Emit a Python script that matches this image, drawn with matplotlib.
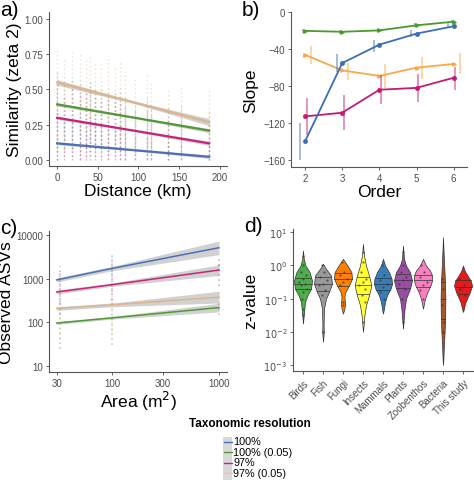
import numpy as np
import matplotlib
matplotlib.use("Agg")
import matplotlib.pyplot as plt
from matplotlib.lines import Line2D
from matplotlib.patches import Rectangle

plt.rcParams['font.family'] = ['Liberation Sans', 'DejaVu Sans']

# ---------------- data ----------------
series = ["100%", "100% (0.05)", "97%", "97% (0.05)"]
colors = ["#3d6db5", "#4a9a2c", "#c41a73", "#f9a94b"]
colors_a = ["#4a6fb5", "#4f9a35", "#c8237a", "#dcb48e"]

# panel a: distances and vertical ranges of points, fitted lines
dist = [0, 9, 18, 28, 35, 41, 47, 54, 62, 71, 77, 83, 96, 110, 116, 136, 153, 187]
a_high = {
    "97% (0.05)": [0.80, 0.72, 0.78, 0.75, 0.72, 0.74, 0.70, 0.68, 0.72, 0.66, 0.70, 0.62, 0.58, 0.60, 0.55, 0.50, 0.52, 0.50],
    "100% (0.05)": [0.62, 0.55, 0.58, 0.55, 0.52, 0.55, 0.50, 0.50, 0.50, 0.48, 0.50, 0.45, 0.42, 0.44, 0.40, 0.38, 0.38, 0.36],
    "97%": [0.55, 0.45, 0.50, 0.48, 0.48, 0.50, 0.45, 0.42, 0.45, 0.42, 0.42, 0.38, 0.35, 0.35, 0.32, 0.30, 0.30, 0.28],
    "100%": [0.35, 0.30, 0.30, 0.30, 0.28, 0.32, 0.28, 0.25, 0.25, 0.22, 0.25, 0.20, 0.18, 0.18, 0.15, 0.12, 0.12, 0.12],
}
a_low = {
    "97% (0.05)": [0.15, 0.20, 0.20, 0.18, 0.20, 0.22, 0.20, 0.20, 0.18, 0.20, 0.15, 0.15, 0.15, 0.12, 0.15, 0.10, 0.12, 0.10],
    "100% (0.05)": [0.05, 0.08, 0.08, 0.06, 0.08, 0.10, 0.08, 0.08, 0.06, 0.08, 0.06, 0.05, 0.05, 0.05, 0.05, 0.04, 0.05, 0.04],
    "97%": [0.00, 0.02, 0.02, 0.01, 0.02, 0.03, 0.02, 0.02, 0.01, 0.02, 0.01, 0.01, 0.01, 0.01, 0.01, 0.00, 0.01, 0.00],
    "100%": [0.00, 0.00, 0.00, 0.00, 0.00, 0.00, 0.00, 0.00, 0.00, 0.00, 0.00, 0.00, 0.00, 0.00, 0.00, 0.00, 0.00, 0.00],
}
a_fit_x = [0, 94, 187]
a_fit = {
    "100%": [0.12, 0.072, 0.025],
    "100% (0.05)": [0.395, 0.302, 0.21],
    "97%": [0.30, 0.21, 0.12],
    "97% (0.05)": [0.55, 0.41, 0.27],
}
a_band = {
    "100%": [0.010, 0.004, 0.012],
    "100% (0.05)": [0.012, 0.005, 0.015],
    "97%": [0.012, 0.005, 0.015],
    "97% (0.05)": [0.020, 0.008, 0.025],
}

# panel b: slope by order
order = [2, 3, 4, 5, 6]
b_slope = {
    "100%": [-140, -55, -35, -23, -15],
    "100% (0.05)": [-20, -21, -19.5, -14, -10],
    "97%": [-113, -109, -84, -82, -71],
    "97% (0.05)": [-46, -63, -69, -60, -56],
}
b_lo = {
    "100%": [-160, -65, -43, -27, -17],
    "100% (0.05)": [-22, -23, -21.5, -16, -12],
    "97%": [-133, -128, -100, -97, -84],
    "97% (0.05)": [-56, -73, -82, -72, -67],
}
b_hi = {
    "100%": [-120, -45, -30, -19, -10],
    "100% (0.05)": [-18, -19, -17.5, -12, -8],
    "97%": [-93, -90, -68, -67, -59],
    "97% (0.05)": [-36, -55, -56, -48, -44],
}

# panel c: observed ASVs vs area
c_x = [30, 100, 1000]
c_fit = {
    "100%": [950, 1750, 5200],
    "100% (0.05)": [97, 128, 220],
    "97%": [500, 740, 1600],
    "97% (0.05)": [210, 255, 380],
}
c_lo = {
    "100%": [850, 1550, 3600],
    "100% (0.05)": [90, 120, 175],
    "97%": [450, 680, 1200],
    "97% (0.05)": [190, 230, 280],
}
c_hi = {
    "100%": [1060, 1950, 7400],
    "100% (0.05)": [105, 137, 275],
    "97%": [560, 810, 2100],
    "97% (0.05)": [230, 280, 520],
}
c_pts_x = [32, 100, 1000]
c_pts_lo = {
    "100%": [300, 500, 1500],
    "100% (0.05)": [25, 30, 150],
    "97%": [150, 250, 700],
    "97% (0.05)": [40, 60, 200],
}
c_pts_hi = {
    "100%": [2000, 3500, 3200],
    "100% (0.05)": [300, 350, 300],
    "97%": [1500, 2800, 2500],
    "97% (0.05)": [700, 700, 600],
}

# panel d: z-value violins (log10 z levels and half widths)
groups = ["Birds", "Fish", "Fungi", "Insects", "Mammals", "Plants", "Zoobenthos", "Bacteria", "This study"]
group_colors = ["#4DAF4A", "#999999", "#FF7F00", "#FFFF33", "#377EB8", "#984EA3", "#F781BF", "#A65628", "#E41A1C"]
v_levels = [
    [0.45, 0.2, 0.0, -0.2, -0.45, -0.7, -0.9, -1.1, -1.4, -1.75],
    [0.05, -0.1, -0.3, -0.55, -0.8, -1.0, -1.3, -1.8, -2.0, -2.3],
    [0.2, 0.0, -0.2, -0.4, -0.6, -0.8, -0.95, -1.15, -1.3, -1.45],
    [0.65, 0.3, 0.0, -0.3, -0.6, -0.9, -1.2, -1.5, -1.8, -2.0],
    [0.2, 0.0, -0.2, -0.4, -0.55, -0.7, -0.9, -1.1, -1.3, -1.45],
    [0.6, 0.2, 0.0, -0.2, -0.45, -0.7, -1.0, -1.3, -1.6, -1.9],
    [0.2, 0.0, -0.15, -0.3, -0.45, -0.6, -0.8, -1.0, -1.15, -1.3],
    [0.85, 0.4, 0.0, -0.5, -1.0, -1.5, -2.0, -2.5, -2.8, -3.0],
    [0.0, -0.15, -0.3, -0.45, -0.6, -0.8, -1.0, -1.15, -1.3, -1.4],
]
v_width = [
    [0.0, 0.04, 0.12, 0.33, 0.45, 0.40, 0.22, 0.10, 0.05, 0.0],
    [0.0, 0.15, 0.40, 0.45, 0.30, 0.15, 0.05, 0.03, 0.04, 0.0],
    [0.0, 0.22, 0.42, 0.45, 0.30, 0.12, 0.07, 0.11, 0.07, 0.0],
    [0.0, 0.05, 0.15, 0.30, 0.42, 0.30, 0.15, 0.07, 0.03, 0.0],
    [0.0, 0.10, 0.30, 0.43, 0.45, 0.38, 0.20, 0.10, 0.05, 0.0],
    [0.0, 0.05, 0.15, 0.35, 0.45, 0.35, 0.15, 0.08, 0.04, 0.0],
    [0.0, 0.15, 0.35, 0.45, 0.45, 0.38, 0.22, 0.10, 0.05, 0.0],
    [0.0, 0.03, 0.06, 0.10, 0.12, 0.11, 0.08, 0.04, 0.02, 0.0],
    [0.0, 0.08, 0.22, 0.38, 0.45, 0.35, 0.20, 0.10, 0.05, 0.0],
]
v_quart = [
    [-0.72, -0.55, -0.38],
    [-0.78, -0.55, -0.35],
    [-0.62, -0.40, -0.22],
    [-0.85, -0.60, -0.35],
    [-0.75, -0.55, -0.38],
    [-0.68, -0.45, -0.25],
    [-0.65, -0.45, -0.28],
    [-1.6, -1.0, -0.5],
    [-0.85, -0.65, -0.45],
]
v_points = [
    [0.3, 0.0, -0.2, -0.3, -0.4, -0.5, -0.55, -0.6, -0.7, -0.8, -1.0, -1.3, -1.5],
    [0.0, -0.2, -0.35, -0.45, -0.55, -0.6, -0.75, -0.9, -2.0],
    [0.1, -0.2, -0.3, -0.4, -0.5, -0.6, -1.1, -1.2],
    [0.4, 0.1, -0.2, -0.4, -0.5, -0.6, -0.7, -0.9, -1.1, -1.7],
    [0.0, -0.3, -0.45, -0.55, -0.65, -0.8, -1.0],
    [0.4, 0.0, -0.2, -0.35, -0.45, -0.55, -0.7, -1.0, -1.7],
    [0.0, -0.2, -0.35, -0.5, -0.6, -0.75, -1.0],
    [-0.4, -0.7, -1.2, -1.7, -2.0],
    [-0.4, -0.6, -0.7, -0.9],
]

# ---------------- figure ----------------
W, H = 474, 481
fig = plt.figure(figsize=(W / 100, H / 100), dpi=100)

def ax_px(l, t, r, b):
    return fig.add_axes([l / W, 1 - b / H, (r - l) / W, (b - t) / H])

tick_col = "#4d4d4d"
def style(ax):
    for s in ["top", "right"]:
        ax.spines[s].set_visible(False)
    for s in ["left", "bottom"]:
        ax.spines[s].set_color("#555555")
        ax.spines[s].set_linewidth(0.8)
    ax.tick_params(labelsize=7, colors=tick_col, length=2.5, width=0.6, pad=1.5)
    ax.set_facecolor("white")

# ---- a ----
axa = ax_px(49, 13, 227, 167)
for k, s in enumerate(["100%", "100% (0.05)", "97%", "97% (0.05)"]):
    axa.vlines(dist, a_low[s], a_high[s], colors=colors_a[series.index(s)],
               linestyles=(0, (1, 2)), lw=1.0, alpha=0.42)
for s in ["97% (0.05)", "100% (0.05)", "97%", "100%"]:
    c = colors_a[series.index(s)]
    y = np.array(a_fit[s]); b = np.array(a_band[s])
    axa.fill_between(a_fit_x, y - b, y + b, color="#999999", alpha=0.45, lw=0)
    axa.plot(a_fit_x, a_fit[s], color=c, lw=1.6)
axa.set_xlim(-10, 209)
axa.set_ylim(-0.04, 1.047)
axa.set_xticks([0, 50, 100, 150, 200])
axa.set_yticks([0, 0.25, 0.5, 0.75, 1.0])
axa.set_yticklabels(["0.00", "0.25", "0.50", "0.75", "1.00"])
axa.set_xlabel("Distance (km)", fontsize=12.5, labelpad=1)
axa.set_ylabel("Similarity (zeta 2)", fontsize=12.5, labelpad=2)
style(axa)

# ---- b ----
axb = ax_px(291, 13, 467, 168)
dodge = {"100%": -0.14, "100% (0.05)": -0.05, "97%": 0.05, "97% (0.05)": 0.16}
for s in ["97% (0.05)", "97%", "100%", "100% (0.05)"]:
    c = colors[series.index(s)]
    xs = np.array(order) + dodge[s]
    axb.vlines(xs, b_lo[s], b_hi[s], colors=c, lw=1.2, alpha=0.55)
    axb.plot(order, b_slope[s], color=c, lw=1.3, marker=">" if "0.05" in s else "o",
             ms=2.5)
axb.set_xlim(1.62, 6.36)
axb.set_ylim(-168, 0.5)
axb.set_xticks(order)
axb.set_yticks([0, -40, -80, -120, -160])
axb.set_xlabel("Order", fontsize=12.5, labelpad=1)
axb.set_ylabel("Slope", fontsize=12.5, labelpad=4)
style(axb)

# ---- c ----
axc = ax_px(49, 232, 227, 373)
for s in ["100%", "100% (0.05)", "97%", "97% (0.05)"]:
    c = colors_a[series.index(s)]
    axc.vlines(c_pts_x, c_pts_lo[s], c_pts_hi[s], colors=c, linestyles=(0, (1, 2)),
               lw=1.2, alpha=0.4)
for s in ["100%", "97%", "97% (0.05)", "100% (0.05)"]:
    c = colors_a[series.index(s)]
    axc.fill_between(c_x, c_lo[s], c_hi[s], color="#999999", alpha=0.45, lw=0)
    axc.plot(c_x, c_fit[s], color=c, lw=1.1)
axc.set_xscale("log"); axc.set_yscale("log")
axc.set_xlim(25.4, 1190)
axc.set_ylim(7.3, 12600)
axc.set_xticks([30, 100, 300, 1000])
axc.set_xticklabels(["30", "100", "300", "1000"])
axc.set_yticks([10, 100, 1000, 10000])
axc.set_yticklabels(["10", "100", "1000", "10000"])
axc.minorticks_off()
axc.set_xlabel("Area (m$^2$)", fontsize=12.5, labelpad=1)
axc.set_ylabel("Observed ASVs", fontsize=12.5, labelpad=2)
style(axc)

# ---- d ----
axd = ax_px(293, 230, 474, 372)
for i, g in enumerate(groups):
    lv = np.array(v_levels[i]); wd = np.array(v_width[i])
    z = 10 ** lv
    axd.fill_betweenx(z, i - wd, i + wd, facecolor=group_colors[i], edgecolor="#333333",
                      lw=0.5, zorder=2)
    order_idx = np.argsort(lv)
    for q in v_quart[i]:
        hw = np.interp(q, lv[order_idx], wd[order_idx])
        axd.plot([i - hw, i + hw], [10 ** q, 10 ** q], color="#333333", lw=0.5, zorder=3)
    pts = np.array(v_points[i])
    hw = np.interp(pts, lv[order_idx], wd[order_idx])
    off = (((np.arange(len(pts)) * 0.618) % 1.0) - 0.5) * 1.2 * hw
    axd.scatter(i + off, 10 ** pts, s=2.5, color="#333333", alpha=0.7, zorder=4, lw=0)
axd.set_yscale("log")
axd.set_xlim(-0.5, 8.55)
axd.set_ylim(10 ** -3.18, 10 ** 1.1)
axd.set_yticks([1e-3, 1e-2, 1e-1, 1, 10])
axd.set_yticklabels(["$10^{-3}$", "$10^{-2}$", "$10^{-1}$", "$10^{0}$", "$10^{1}$"])
axd.minorticks_off()
axd.set_xticks(range(len(groups)))
axd.set_xticklabels(groups, rotation=45, ha="right", rotation_mode="anchor")
axd.set_ylabel("z-value", fontsize=12.5, labelpad=4)
style(axd)
axd.tick_params(axis="x", labelsize=7, pad=2)

# panel labels
for lab, x, y in [("a)", 0, 1), ("b)", 242, 1), ("c)", 0, 219), ("d)", 244, 217)]:
    fig.text(x / W, 1 - y / H, lab, fontsize=15, va="top", ha="left")

# legend (manual)
fig.text(250 / W, 1 - 424 / H, "Taxonomic resolution", fontsize=8.5, fontweight="bold",
         ha="center", va="center")
fig.patches.append(Rectangle((223 / W, 1 - 482 / H), 9 / W, 44 / H, transform=fig.transFigure,
                             facecolor="#d9d9d9", edgecolor="none"))
for k, s in enumerate(series):
    yy = 1 - (442.5 + 10.5 * k) / H
    c = colors_a[k] if k < 3 else "#f2c39c"
    fig.lines.append(Line2D([224 / W, 232 / W], [yy, yy], transform=fig.transFigure,
                            color=c, lw=1.0))
    fig.text(233 / W, yy, s, fontsize=7.8, va="center", ha="left")

fig.savefig("out.png", dpi=100)
